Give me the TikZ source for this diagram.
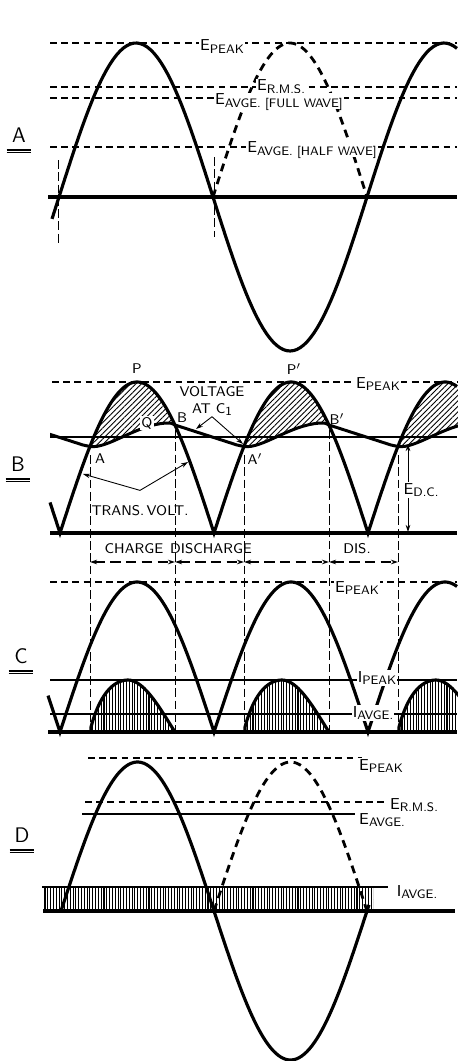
\documentclass[tikz,border=0pt]{standalone}
\usetikzlibrary{arrows.meta, positioning, patterns.meta}

% lowered small lettering for the scale labels
\newcommand{\lsub}[1]{\raisebox{-0.3ex}{\scriptsize #1}}

\begin{document}
\begin{tikzpicture}[x=0.02cm, y=-0.02cm, >={Stealth[length=4pt, width=2.6pt]},
    font=\sffamily\footnotesize,
    wave/.style={line width=1.8pt},
    hwave/.style={line width=1.6pt, dash pattern=on 4.5pt off 3.2pt},
    refline/.style={line width=1pt, dash pattern=on 3.8pt off 2.6pt},
    zeroline/.style={line width=2pt},
    flatline/.style={line width=0.9pt},
    ripple/.style={line width=1.7pt, line join=round},
    guide/.style={line width=0.5pt, dash pattern=on 5pt off 2pt},
    dimline/.style={line width=0.6pt, dash pattern=on 6pt off 3pt},
    pointer/.style={line width=0.5pt, ->},
    lbl/.style={fill=white, inner sep=0.5pt, anchor=base, font=\sffamily\small,
                text height=1.45ex, text depth=0.35ex},
    ptlbl/.style={inner sep=0.6pt, font=\sffamily\footnotesize},
    panel/.style={font=\sffamily\large, inner sep=0.5pt},
    diag/.style={pattern={Lines[angle=45, distance=2.2pt, line width=0.5pt]}},
    vert/.style={pattern={Lines[angle=90, distance=1.6pt, line width=0.6pt]}}]

  \fill[white] (0,0) rectangle (457,1061);
  \useasboundingbox (0,0) rectangle (457,1061);

  % ---------- A: sine wave with peak, r.m.s. and average values ----------
  \node[panel] (panelA) at (19,135) {A};
  \draw[refline] (50,43) -- (457,43);
  \draw[refline] (50,87) -- (457,87);
  \draw[refline] (50,98) -- (457,98);
  \draw[refline] (50,147) -- (457,147);
  \draw[guide] (58,160) -- (58,243);
  \draw[guide] (214,157) -- (214,237);
  \draw[hwave] plot[domain=213:367, samples=60] (\x, {197-154*sin((\x-213)/154*180)});
  \node[lbl] (peakA) at (222,51) {E\lsub{PEAK}};
  \node[lbl] (rmsA) at (281,91) {E\lsub{R.M.S.}};
  \node[lbl] (fullA) at (279,105) {E\lsub{AVGE. [FULL WAVE]}};
  \node[lbl] (halfA) at (312,153) {E\lsub{AVGE. [HALF WAVE]}};
  \draw[wave] plot[domain=52:457, samples=120] (\x, {197-154*sin((\x-59)/154*180)});
  \draw[zeroline] (48,197) -- (457,197);

  % ---------- B: rectified wave and voltage at C1 ----------
  \node[panel] (panelB) at (18,464) {B};
  \draw[refline] (52,382) -- (457,382);
  \foreach \o in {0,154,308}
    \fill[diag, shift={(\o,0)}] plot[domain=90:175, samples=40] (\x, {533-151*sin((\x-60)/154*180)})
      .. controls (171,423) .. (166,423) .. controls (136,425) and (108,449) .. (90,446.5) -- cycle;
  \draw[flatline, line width=1.4pt] (50,437) -- (457,437);
  \begin{scope}
    \clip (50,300) rectangle (460,540);
    \foreach \o in {-154,0,154,308}
      \draw[ripple, shift={(\o,0)}] (90,446.5) .. controls (108,449) and (136,425) .. (166,423)
        .. controls (171,423) .. (175,425) -- (237,445) .. controls (240,446.5) .. (244,446.5);
  \end{scope}
  \draw[wave] plot[domain=50:457, samples=408] (\x, {533-151*abs(sin((\x-60)/154*180))});
  \draw[zeroline] (50,533) -- (457,533);

  % charge / discharge guides, down to C
  \foreach \gx/\gy in {90/455, 175/430, 244/455, 329/430, 398/455}
    \draw[guide] (\gx,\gy) -- (\gx,732);

  \node[lbl] (peakB) at (378,388) {E\lsub{PEAK}};
  \node[ptlbl] (ptP) at (137,369) {P};
  \node[ptlbl] (ptPp) at (294,369) {P$'$};
  \node[ptlbl, fill=white] (ptQ) at (147,423) {Q};
  \node[ptlbl] (ptB) at (182,418) {B};
  \node[ptlbl] (ptA) at (100,459) {A};
  \node[ptlbl] (ptAp) at (255,459) {A$'$};
  \node[ptlbl] (ptBp) at (337,419) {B$'$};

  \node[ptlbl, align=center] (vc) at (212,401) {VOLTAGE\\AT C\lsub{1}};
  \coordinate (vcL) at (196,429);
  \coordinate (vcR) at (243,444);
  \draw[pointer] (vc.south) -- (vcL);
  \draw[pointer] (vc.south) -- (vcR);

  \node[ptlbl] (tv) at (140,511) {TRANS.\,VOLT.};
  \coordinate[above=8pt of tv.north] (tvA);
  \coordinate (tvL) at (83,474);
  \coordinate (tvR) at (188,462);
  \draw[pointer] (tvA) -- (tvL);
  \draw[pointer] (tvA) -- (tvR);

  \coordinate (dcT) at (408,444);
  \coordinate (dcB) at (408,532);
  \draw[pointer, <->] (dcT) -- (dcB);
  \node[lbl] (edc) at (421,494) {E\lsub{D.C.}};

  \node (chg1) at (134,549) {CHARGE};
  \node (dch1) at (211,549) {DISCHARGE};
  \node (dch2) at (357,549) {DIS.};
  \coordinate (d1) at (90,562);
  \coordinate (d2) at (175,562);
  \coordinate (d3) at (244,562);
  \coordinate (d4) at (329,562);
  \coordinate (d5) at (398,562);
  \foreach \a/\b in {d1/d2, d2/d3, d3/d4, d4/d5}
    \draw[dimline, <->] (\a) -- (\b);

  % ---------- C: current pulses into C1 ----------
  \node[panel] (panelC) at (21,656) {C};
  \draw[refline] (50,582) -- (457,582);
  \draw[flatline] (50,680) -- (457,680);
  \draw[flatline] (50,714) -- (457,714);
  \foreach \o in {0,154,308} {
    \fill[vert, shift={(\o,0)}] (91,732) -- (91,727) .. controls (99,697) and (112,680) .. (128,680)
      .. controls (145,680) and (162,712) .. (175,732) -- cycle;
    \draw[wave, shift={(\o,0)}] (91,732) -- (91,727) .. controls (99,697) and (112,680) .. (128,680)
      .. controls (145,680) and (162,712) .. (175,732);
  }
  \draw[wave] plot[domain=48:457, samples=410] (\x, {732-150*abs(sin((\x-60)/154*180))});
  \node[lbl] (peakC) at (357,592) {E\lsub{PEAK}};
  \node[lbl] (ipkC) at (377,682) {I\lsub{PEAK}};
  \node[lbl] (iavC) at (373,717) {I\lsub{AVGE.}};
  \draw[zeroline] (48,732) -- (457,732);

  % ---------- D: half wave with steady d.c. current ----------
  \node[panel] (panelD) at (22,835) {D};
  \draw[refline] (88,758) -- (362,758);
  \draw[refline] (85,802) -- (388,802);
  \draw[flatline] (82,814) -- (355,814);
  \fill[vert] (43,887) rectangle (373,910);
  \draw[flatline, line width=1.4pt] (42,887) -- (388,887);
  \draw[hwave] plot[domain=214:367, samples=60] (\x, {911-149*sin((\x-214)/153*180)});
  \draw[wave] plot[domain=61:369, samples=120] (\x, {911-149*sin((\x-61)/153*180)});
  \draw[zeroline] (43,911) -- (455,911);
  \node[lbl] (peakD) at (381,770) {E\lsub{PEAK}};
  \node[lbl] (rmsD) at (414,809) {E\lsub{R.M.S.}};
  \node[lbl] (avgD) at (382,824) {E\lsub{AVGE.}};
  \node[lbl] (iavD) at (417,896) {I\lsub{AVGE.}};

  % double underline under the panel letters
  \foreach \p in {panelA, panelB, panelC, panelD} {
    \draw[line width=1.1pt] ([xshift=-7pt, yshift=-3.5pt]\p.south) -- ([xshift=7pt, yshift=-3.5pt]\p.south);
    \draw[line width=0.4pt] ([xshift=-7pt, yshift=-5pt]\p.south) -- ([xshift=7pt, yshift=-5pt]\p.south);
  }
\end{tikzpicture}
\end{document}
